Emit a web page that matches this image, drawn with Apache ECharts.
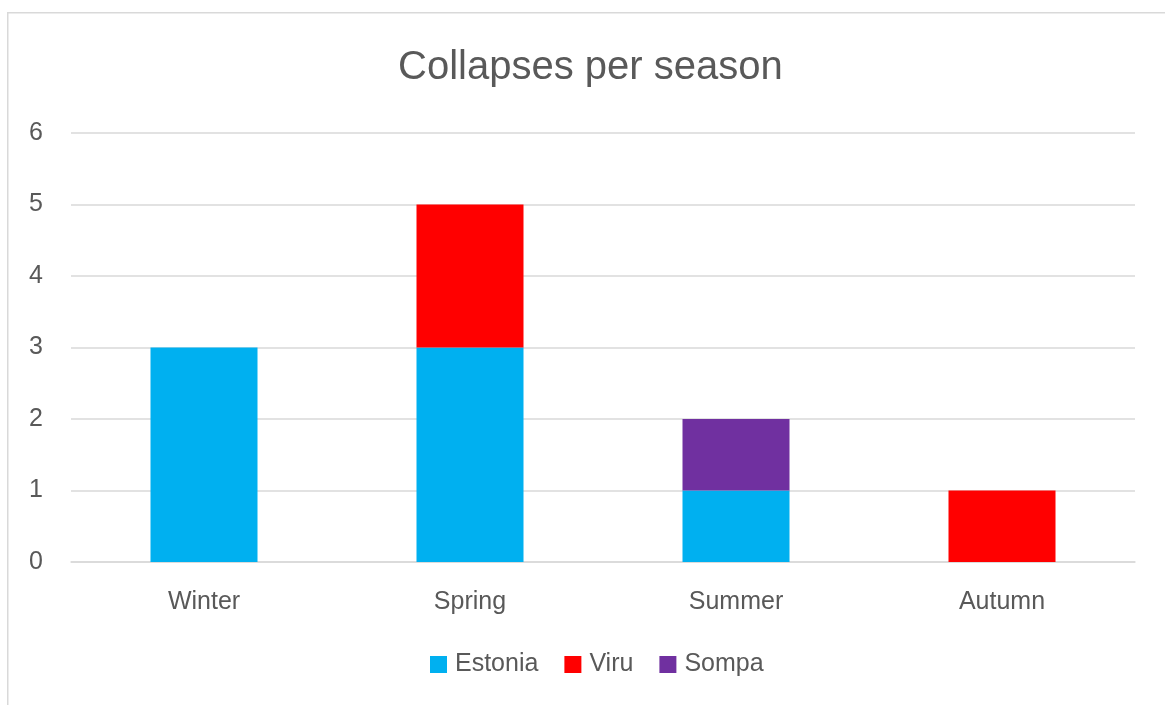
<!DOCTYPE html>
<html>
<head>
<meta charset="utf-8">
<style>
  html, body { margin: 0; padding: 0; background: #ffffff; }
  #chart { width: 1165px; height: 705px; }
</style>
<script src="https://cdn.jsdelivr.net/npm/echarts@6/dist/echarts.min.js"></script>
</head>
<body>
<div id="chart"></div>
<script>
// Seasons and number of collapses per mine
const seasons = ['Winter', 'Spring', 'Summer', 'Autumn'];
const estonia = [3, 3, 1, 0];
const viru = [0, 2, 0, 1];
const sompa = [0, 0, 1, 0];
const seriesNames = ['Estonia', 'Viru', 'Sompa'];
const seriesColors = ['#00B0F0', '#FF0000', '#7030A0'];

const font = '"Liberation Sans", Arial, sans-serif';
const textColor = '#595959';

const chart = echarts.init(document.getElementById('chart'), null, { renderer: 'canvas' });

const values = [estonia, viru, sompa];

chart.setOption({
  animation: false,
  backgroundColor: '#ffffff',
  graphic: [{
    type: 'rect',
    shape: { x: 7.75, y: 12.75, width: 1200, height: 800 },
    style: { fill: 'none', stroke: '#d9d9d9', lineWidth: 1.5 },
    silent: true
  }],
  title: {
    text: 'Collapses per season',
    left: 393,
    top: 43,
    textStyle: { fontFamily: font, fontSize: 40, fontWeight: 'normal', color: textColor }
  },
  legend: {
    bottom: 23,
    left: 425,
    icon: 'rect',
    itemWidth: 17,
    itemHeight: 17,
    itemGap: 26,
    data: seriesNames,
    textStyle: { fontFamily: font, fontSize: 25, color: textColor, padding: [0, 0, 0, 3] }
  },
  grid: { left: 71, right: 30, top: 133, bottom: 143, containLabel: false },
  xAxis: {
    type: 'category',
    data: seasons,
    axisLine: { show: true, lineStyle: { color: '#d9d9d9', width: 1.5 } },
    axisTick: { show: false },
    axisLabel: { fontFamily: font, fontSize: 25, color: textColor, margin: 28 }
  },
  yAxis: {
    type: 'value',
    min: 0,
    max: 6,
    interval: 1,
    axisLine: { show: false },
    axisTick: { show: false },
    splitLine: { lineStyle: { color: '#d9d9d9', width: 1.5 } },
    axisLabel: { fontFamily: font, fontSize: 25, color: textColor, margin: 28 }
  },
  series: seriesNames.map((name, i) => ({
    name: name,
    type: 'bar',
    stack: 'total',
    barWidth: 107,
    itemStyle: { color: seriesColors[i] },
    data: values[i]
  }))
});
</script>
</body>
</html>
